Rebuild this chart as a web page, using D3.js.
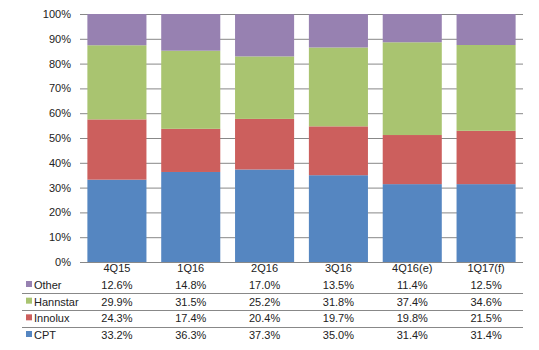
<!DOCTYPE html>
<html><head><meta charset="utf-8">
<script src="https://cdn.jsdelivr.net/npm/d3@7"></script>
<style>body{margin:0;background:#fff}svg{display:block;font-family:"Liberation Sans",Arial,sans-serif}</style>
</head><body><svg id="c" width="539" height="350"></svg>
<script>
const categories = ["4Q15","1Q16","2Q16","3Q16","4Q16(e)","1Q17(f)"];
const seriesNames = ["CPT","Innolux","Hannstar","Other"];
const cpt      = [33.2,36.3,37.3,35.0,31.4,31.4];
const innolux  = [24.3,17.4,20.4,19.7,19.8,21.5];
const hannstar = [29.9,31.5,25.2,31.8,37.4,34.6];
const other    = [12.6,14.8,17.0,13.5,11.4,12.5];
const yTicks = [0,10,20,30,40,50,60,70,80,90,100];
const colors = {CPT:"#5586C1",Innolux:"#CC5F5D",Hannstar:"#A9C470",Other:"#9781B1"};
const seriesData = {CPT:cpt,Innolux:innolux,Hannstar:hannstar,Other:other};

const svg = d3.select("#c");
const L=80,R=523,T=14,B=262;
const x = d3.scaleBand().domain(categories).range([L,R]).paddingInner(0.2).paddingOuter(0.1);
const y = d3.scaleLinear().domain([0,100]).range([B,T]);

// gridlines
svg.append("g").selectAll("line").data(yTicks).join("line")
  .attr("x1",L).attr("x2",R).attr("y1",d=>y(d)+0.5).attr("y2",d=>y(d)+0.5)
  .attr("stroke","#888").attr("stroke-width",1);

const rows = categories.map((c,i)=>{const o={cat:c};seriesNames.forEach(s=>o[s]=seriesData[s][i]);return o;});
const stack = d3.stack().keys(seriesNames)(rows);
svg.append("g").selectAll("g").data(stack).join("g").attr("fill",d=>colors[d.key])
  .selectAll("rect").data(d=>d).join("rect")
  .attr("x",d=>x(d.data.cat)).attr("width",x.bandwidth())
  .attr("y",d=>y(Math.min(100,d[1]))).attr("height",d=>y(d[0])-y(Math.min(100,d[1])));

// y axis labels
svg.append("g").selectAll("text").data(yTicks).join("text")
  .attr("x",71).attr("y",d=>y(d)+4).attr("text-anchor","end")
  .attr("font-size",11).attr("fill","#222").text(d=>d+"%");

// baseline
svg.append("line").attr("x1",L).attr("x2",R).attr("y1",B+0.5).attr("y2",B+0.5).attr("stroke","#888");

// data table
const cx = c => x(c)+x.bandwidth()/2;
svg.append("g").selectAll("text").data(categories).join("text")
  .attr("x",cx).attr("y",272).attr("text-anchor","middle").attr("font-size",11).attr("fill","#222").text(d=>d);

const tableOrder = ["Other","Hannstar","Innolux","CPT"];
const rowY = d3.scalePoint().domain(tableOrder).range([289,339]);
tableOrder.forEach((s,k)=>{
  const g = svg.append("g");
  g.append("rect").attr("x",26).attr("y",rowY(s)-8).attr("width",6).attr("height",6).attr("fill",colors[s]);
  g.append("text").attr("x",34).attr("y",rowY(s)).attr("font-size",11).attr("fill","#222").text(s);
  g.selectAll("text.v").data(seriesData[s]).join("text").attr("class","v")
    .attr("x",(d,i)=>cx(categories[i])).attr("y",rowY(s)).attr("text-anchor","middle")
    .attr("font-size",11).attr("fill","#222").text(d=>d.toFixed(1)+"%");
  if(k<tableOrder.length-1){
    const ly = Math.round((rowY(s)+rowY(tableOrder[k+1]))/2)-4;
    g.append("line").attr("x1",22).attr("x2",R).attr("y1",ly+0.5).attr("y2",ly+0.5).attr("stroke","#888");
  }
});
</script></body></html>
